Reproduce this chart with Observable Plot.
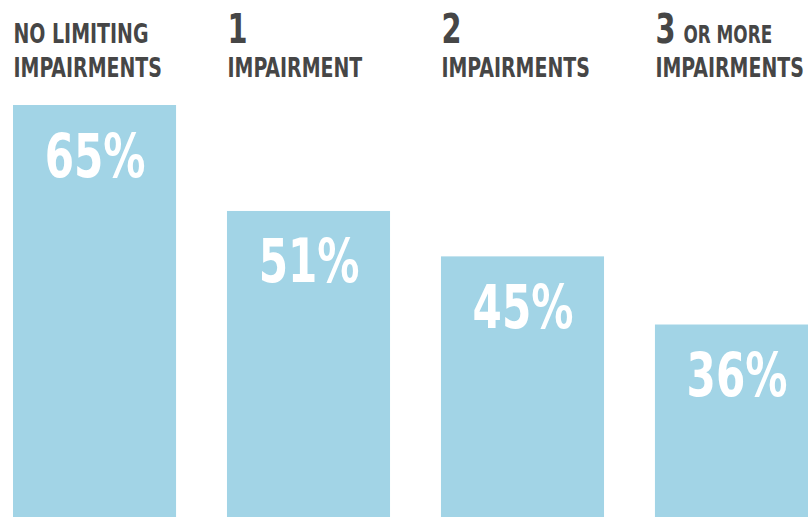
<!DOCTYPE html>
<html>
<head>
<meta charset="utf-8">
<script src="https://cdn.jsdelivr.net/npm/d3@7"></script>
<script src="https://cdn.jsdelivr.net/npm/@observablehq/plot@0.6"></script>
<style>
  html, body { margin: 0; padding: 0; background: #fff; overflow: hidden; }
  #chart svg { display: block; }
</style>
</head>
<body>
<div id="chart"></div>
<script>
const categories = ["NO LIMITING IMPAIRMENTS", "1 IMPAIRMENT", "2 IMPAIRMENTS", "3 OR MORE IMPAIRMENTS"];
const values = [65, 51, 45, 36];
const valueLabels = ["65%", "51%", "45%", "36%"];
const numberLabels = ["", "1", "2", "3"];
const lineOneLabels = ["NO LIMITING", "", "", "OR MORE"];
const lineTwoLabels = ["IMPAIRMENTS", "IMPAIRMENT", "IMPAIRMENTS", "IMPAIRMENTS"];

const data = categories.map((c, i) => ({
  category: c,
  value: values[i],
  label: valueLabels[i],
  num: numberLabels[i],
  line1: lineOneLabels[i],
  line2: lineTwoLabels[i]
}));

const font = "'DejaVu Sans Condensed', 'Liberation Sans Narrow', sans-serif";
const ink = "#464646";
const barColor = "#a2d4e6";
const step = 214;
const paddingInner = 0.238;
const halfBand = step * (1 - paddingInner) / 2;
const squeeze = 0.78;

const chart = Plot.plot({
  width: 808,
  height: 517,
  margin: 0,
  style: { background: "#fff", overflow: "hidden" },
  x: { type: "band", domain: categories, range: [13, 818], paddingInner, paddingOuter: 0, align: 0, round: false, axis: null },
  y: { domain: [0, 65], range: [597, 105], axis: null },
  marks: [
    Plot.barY(data, { x: "category", y: "value", fill: barColor }),
    Plot.text(data, {
      x: "category", y: "value", text: "label", dy: 71, lineAnchor: "bottom",
      fill: "#fff", fontSize: 60, fontWeight: "bold", fontFamily: font
    }),
    Plot.text(data, {
      x: "category", frameAnchor: "top", text: "num", textAnchor: "start",
      dx: -halfBand, dy: 42, lineAnchor: "bottom",
      fill: ink, fontSize: 41, fontWeight: "bold", fontFamily: font
    }),
    Plot.text(data, {
      filter: d => d.num === "",
      x: "category", frameAnchor: "top", text: "line1", textAnchor: "start",
      dx: -halfBand, dy: 42, lineAnchor: "bottom",
      fill: ink, fontSize: 27, fontWeight: "bold", fontFamily: font
    }),
    Plot.text(data, {
      filter: d => d.num !== "" && d.line1 !== "",
      x: "category", frameAnchor: "top", text: "line1", textAnchor: "start",
      dx: -halfBand + 28, dy: 42, lineAnchor: "bottom",
      fill: ink, fontSize: 24, fontWeight: "bold", fontFamily: font
    }),
    Plot.text(data, {
      x: "category", frameAnchor: "top", text: "line2", textAnchor: "start",
      dx: -halfBand, dy: 76, lineAnchor: "bottom",
      fill: ink, fontSize: 27, fontWeight: "bold", fontFamily: font
    })
  ]
});

document.getElementById("chart").appendChild(chart);

// condense the glyphs horizontally to mimic the narrow display face
chart.querySelectorAll("text").forEach(t => {
  const w = t.getComputedTextLength();
  if (w > 0) {
    t.setAttribute("textLength", (w * squeeze).toFixed(2));
    t.setAttribute("lengthAdjust", "spacingAndGlyphs");
  }
});
</script>
</body>
</html>
